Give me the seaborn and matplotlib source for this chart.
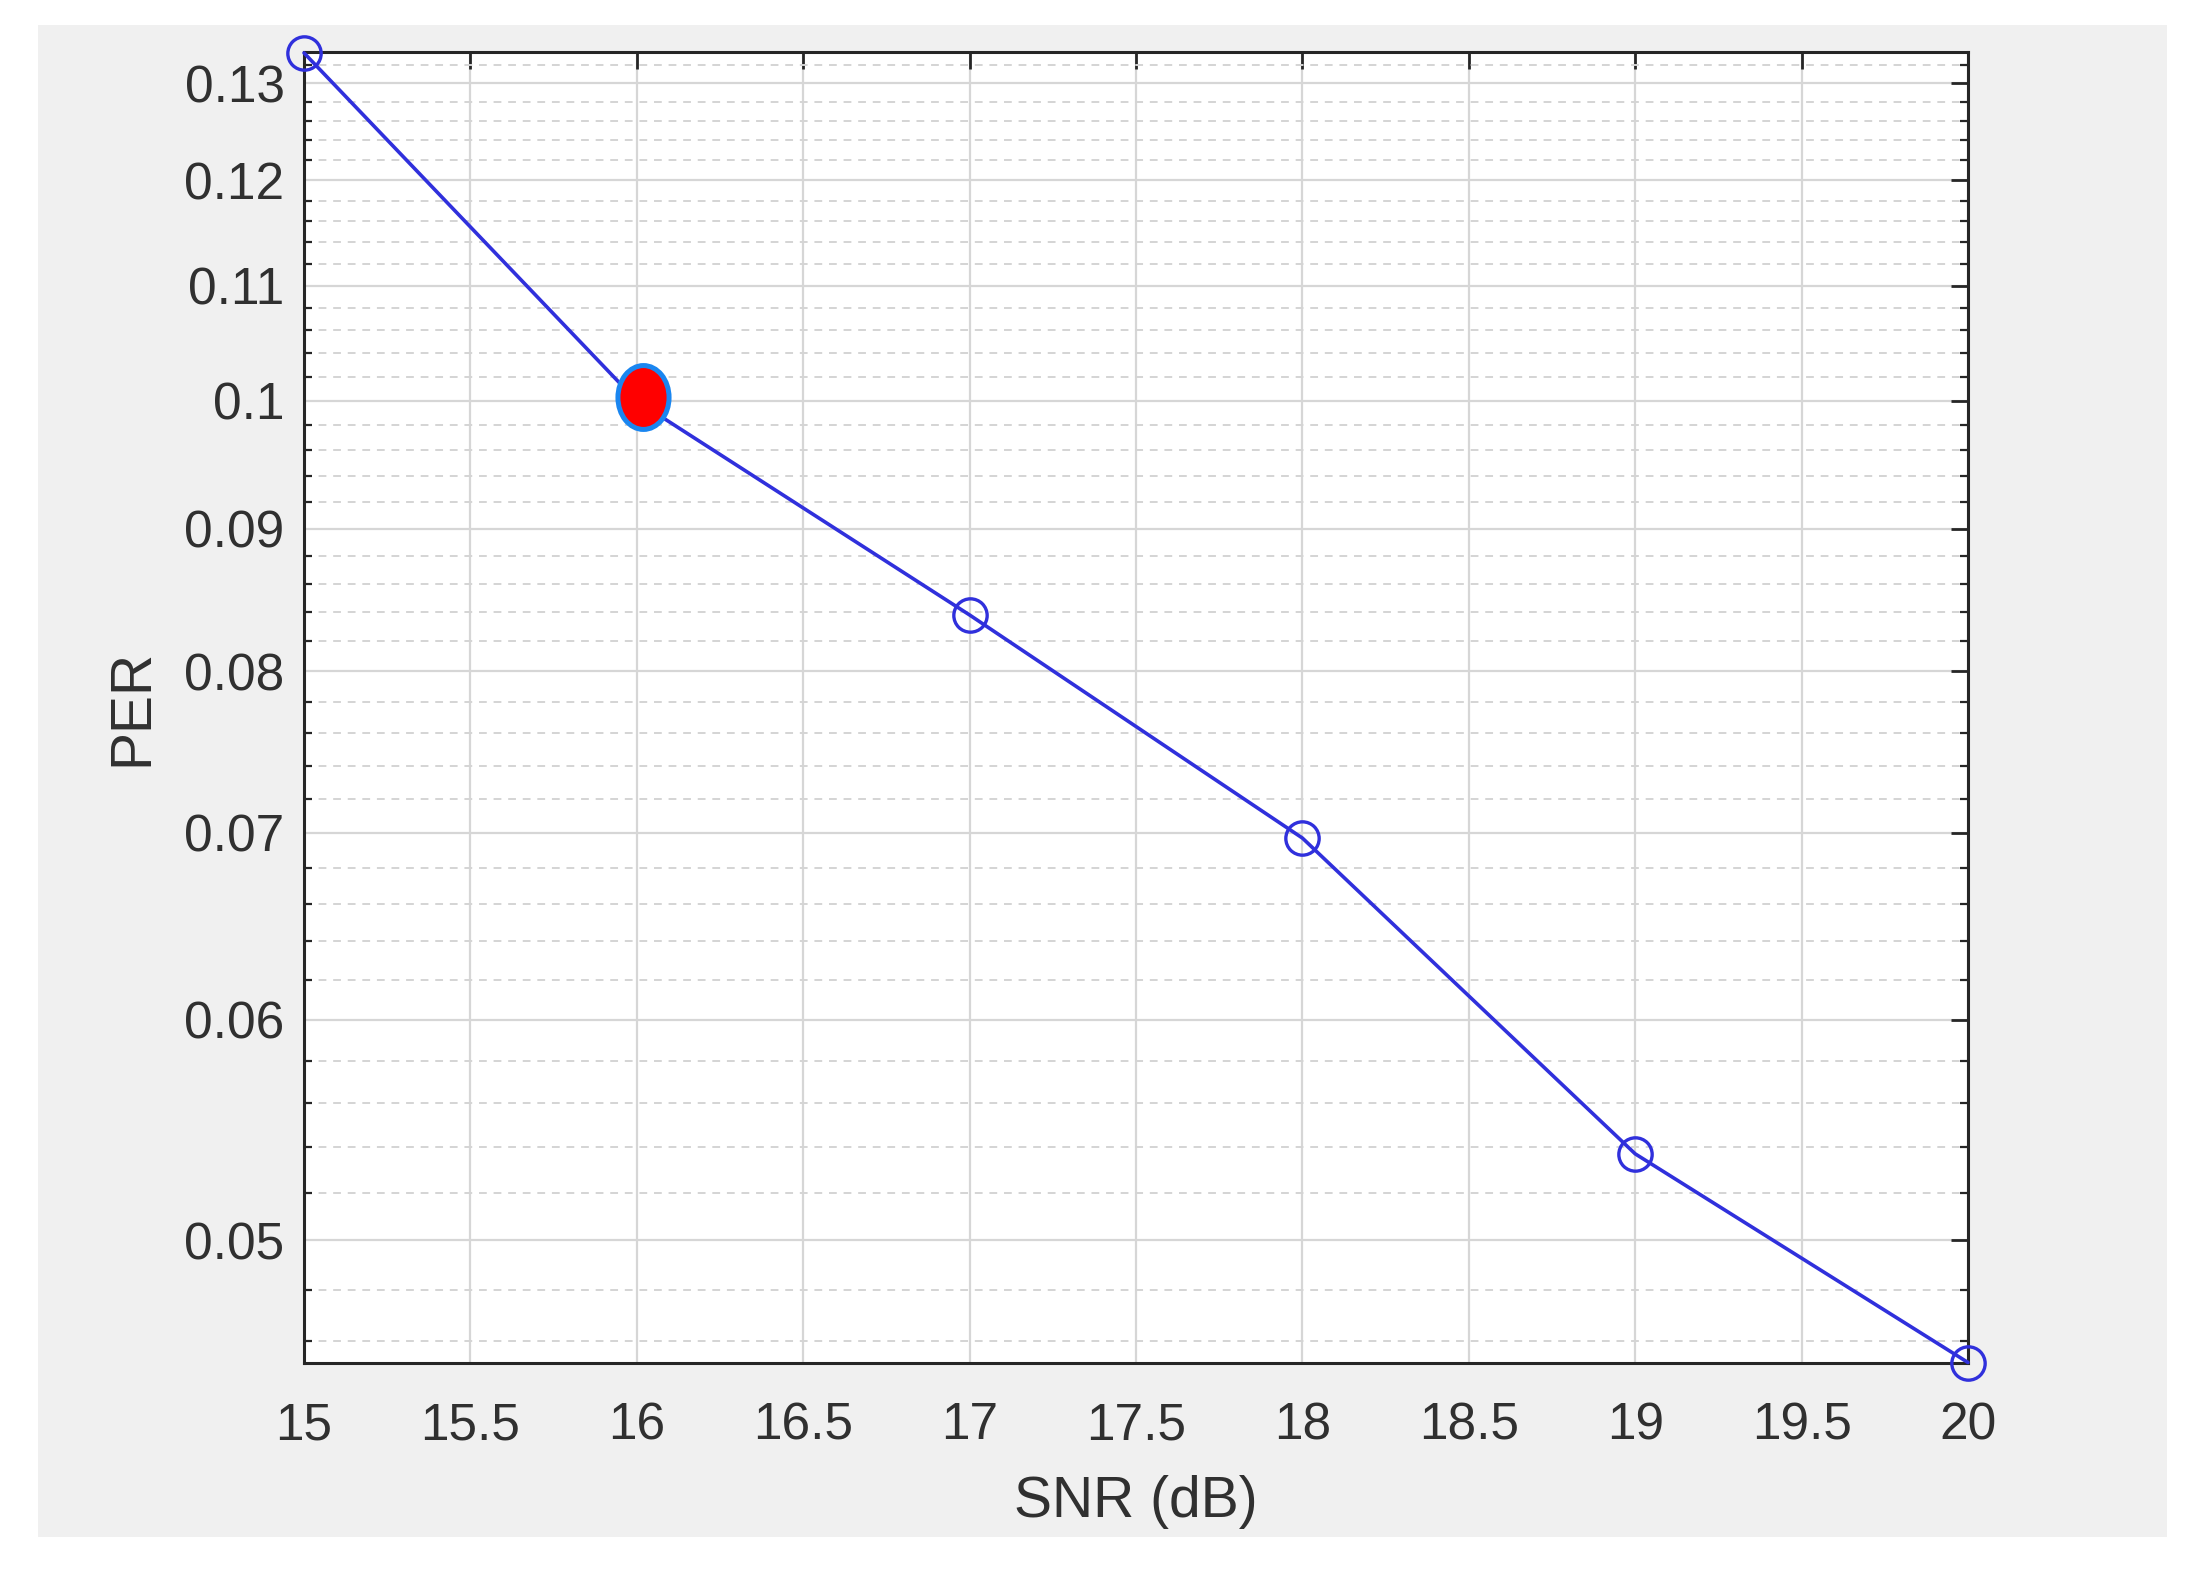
import numpy as np
import pandas as pd
import seaborn as sns
import matplotlib.pyplot as plt
from matplotlib.patches import Rectangle
from matplotlib.path import Path
from matplotlib.ticker import FixedLocator, NullFormatter

# data
snr = [15, 16, 17, 18, 19, 20]
per = [0.1333, 0.1000, 0.0838, 0.0697, 0.0537, 0.0452]
hl_snr = [16.02]  # highlighted point
hl_per = [0.1003]
xticks = [15, 15.5, 16, 16.5, 17, 17.5, 18, 18.5, 19, 19.5, 20]
yticks = [0.05, 0.06, 0.07, 0.08, 0.09, 0.1, 0.11, 0.12, 0.13]
ytick_labels = ['0.05', '0.06', '0.07', '0.08', '0.09', '0.1', '0.11', '0.12', '0.13']

df = pd.DataFrame({'SNR': snr, 'PER': per})

sns.set_theme(style='white')
plt.rcParams['font.family'] = ['Liberation Sans', 'DejaVu Sans']

fig = plt.figure(figsize=(10.985, 7.855), dpi=200, facecolor='white')
# grey MATLAB-style figure panel
fig.patches.append(Rectangle((38 / 2197, 1 - 1537 / 1571), (2167 - 38) / 2197, (1537 - 25) / 1571,
                             transform=fig.transFigure, facecolor='#f0f0f0', edgecolor='none', zorder=-10))
ax = fig.add_axes([304 / 2197, 1 - 1362.5 / 1571, (1968 - 304) / 2197, (1362.5 - 52) / 1571])
ax.set_facecolor('white')

sns.lineplot(data=df, x='SNR', y='PER', ax=ax, color='#3030dc', linewidth=1.3,
             marker='o', markersize=12, markerfacecolor='none', markeredgecolor='#3030dc',
             markeredgewidth=1.2, clip_on=False, zorder=5)

# tall ellipse marker for the highlighted point
circ = Path.unit_circle()
ell = Path(circ.vertices * np.array([0.8, 1.0]), circ.codes)
ax.plot(hl_snr, hl_per, linestyle='none', marker=ell, markersize=23, markerfacecolor='#ff0000',
        markeredgecolor='#1a86f0', markeredgewidth=1.8, zorder=6, clip_on=False)

ax.set_yscale('log')
ax.set_xlim(15, 20)
ax.set_ylim(min(per), 0.1334)
ax.xaxis.set_major_locator(FixedLocator(xticks))
ax.set_xticklabels([f'{t:g}' for t in xticks])
ax.yaxis.set_major_locator(FixedLocator(yticks))
ax.set_yticklabels(ytick_labels)
ax.yaxis.set_minor_locator(FixedLocator(np.arange(0.046, 0.1335, 0.002)))
ax.yaxis.set_minor_formatter(NullFormatter())

ax.grid(True, which='major', axis='both', color='#d6d6d6', linewidth=0.8, linestyle='-')
ax.grid(True, which='minor', axis='y', color='#d4d4d4', linewidth=0.7, linestyle=(0, (4, 3.5)))
ax.set_axisbelow(True)

ax.tick_params(which='major', direction='in', length=6, width=1.0, color='#262626',
               top=True, right=True, labelsize=18.5, labelcolor='#303030')
ax.tick_params(axis='x', which='major', pad=14)
ax.tick_params(axis='y', which='major', pad=7)
ax.tick_params(which='minor', direction='in', length=3, width=0.8, color='#262626', left=True, right=True)
for s in ax.spines.values():
    s.set_color('#262626')
    s.set_linewidth(1.1)

ax.set_xlabel('SNR (dB)', fontsize=20.5, color='#303030', labelpad=9)
ax.set_ylabel('PER', fontsize=20.5, color='#303030', labelpad=9)

plt.savefig('out.png', dpi=200, facecolor='white')
